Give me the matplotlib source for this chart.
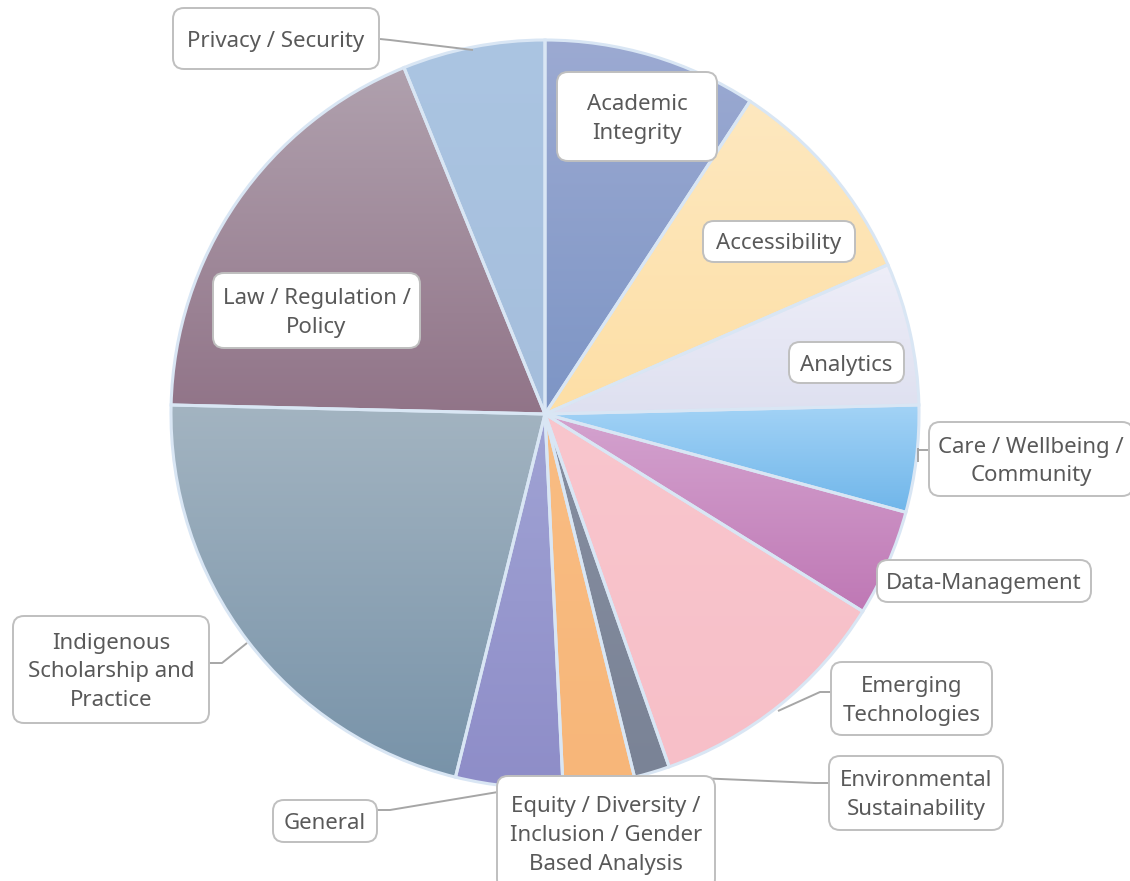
import numpy as np
import matplotlib.pyplot as plt
from matplotlib.patches import FancyBboxPatch
from matplotlib.colors import LinearSegmentedColormap

categories = ["Academic Integrity", "Accessibility", "Analytics",
              "Care / Wellbeing / Community", "Data-Management",
              "Emerging Technologies", "Environmental Sustainability",
              "Equity / Diversity / Inclusion / Gender Based Analysis",
              "General", "Indigenous Scholarship and Practice",
              "Law / Regulation / Policy", "Privacy / Security"]
counts = [6, 6, 4, 3, 3, 7, 1, 2, 3, 14, 12, 4]
label_text = ["Academic\nIntegrity", "Accessibility", "Analytics",
              "Care / Wellbeing /\nCommunity", "Data-Management",
              "Emerging\nTechnologies", "Environmental\nSustainability",
              "Equity / Diversity /\nInclusion / Gender\nBased Analysis",
              "General", "Indigenous\nScholarship and\nPractice",
              "Law / Regulation /\nPolicy", "Privacy / Security"]
top_colors = ["#9caad2", "#fee8bf", "#eeeef8", "#a3d3f6", "#d4a3cf", "#f9c6cd",
              "#868ea0", "#f9bd83", "#a0a3d4", "#a3b4c1", "#b0a1ae", "#abc5e2"]
bottom_colors = ["#7d95c5", "#fddfa6", "#dee0f0", "#70b6ea", "#bf78b5", "#f7bfc8",
                 "#7a8396", "#f7b679", "#8e8dc8", "#7893a9", "#917488", "#a5bedc"]

W, H = 1130, 881
fig = plt.figure(figsize=(W / 100, H / 100), dpi=100)
ax = fig.add_axes([0, 0, 1, 1])


def fy(y):
    # pixel row (from top) -> data y
    return H - y


wedges, _ = ax.pie(counts, startangle=90, counterclock=False,
                   center=(545, fy(414)), radius=374,
                   wedgeprops=dict(edgecolor="#d9e6f4", linewidth=2.2))

grad = np.linspace(0, 1, 256).reshape(-1, 1)
for w, c_top, c_bot in zip(wedges, top_colors, bottom_colors):
    w.set_facecolor("none")
    w.set_zorder(2)
    bb = w.get_path().get_extents()
    cmap = LinearSegmentedColormap.from_list("g", [c_bot, c_top])
    im = ax.imshow(grad, cmap=cmap, origin="lower", aspect="auto",
                   extent=(bb.x0, bb.x1, bb.y0, bb.y1), zorder=1,
                   interpolation="bilinear")
    im.set_clip_path(w)

# leader lines (pixel coords)
leaders = [
    [(380, 39), (390, 40), (473, 50)],
    [(918, 450), (929, 450)],
    [(918, 448), (918, 462)],
    [(831, 692), (820, 692), (778, 711)],
    [(829, 783), (815, 783), (650, 776)],
    [(377, 810), (390, 810), (510, 790)],
    [(209, 663), (222, 663), (247, 643)],
]
for pts in leaders:
    xs = [p[0] for p in pts]
    ys = [fy(p[1]) for p in pts]
    ax.plot(xs, ys, color="#a6a6a6", lw=1.4, zorder=3, solid_capstyle="butt")

# label boxes: x0, y0, x1, y1 in pixels from top-left
boxes = [
    (557, 72, 717, 161),
    (703, 221, 855, 262),
    (789, 342, 904, 383),
    (929, 422, 1133, 496),
    (877, 560, 1091, 602),
    (831, 662, 992, 735),
    (829, 756, 1003, 830),
    (497, 776, 715, 890),
    (273, 800, 377, 842),
    (13, 616, 209, 723),
    (213, 273, 420, 348),
    (173, 8, 379, 69),
]
for (x0, y0, x1, y1), txt in zip(boxes, label_text):
    box = FancyBboxPatch((x0, fy(y1)), x1 - x0, y1 - y0,
                         boxstyle="round,pad=0,rounding_size=11",
                         fc="white", ec="#bfbfbf", lw=1.4, zorder=5)
    ax.add_patch(box)
    ax.text((x0 + x1) / 2, fy((y0 + y1) / 2 + 2.5), txt, ha="center", va="center",
            fontsize=16, color="#595959", family="Noto Sans",
            linespacing=1.5, zorder=6)

ax.set_xlim(0, W)
ax.set_ylim(0, H)
ax.set_axis_off()
fig.savefig("out.png", dpi=100, facecolor="white")
